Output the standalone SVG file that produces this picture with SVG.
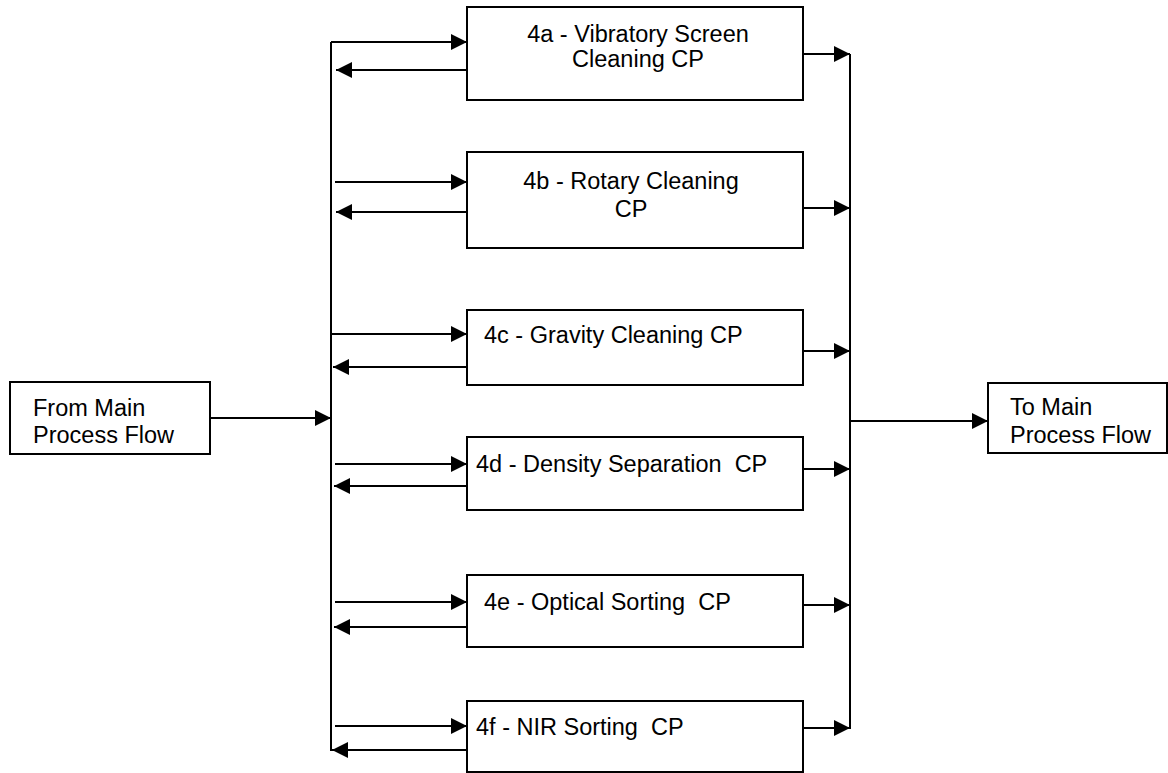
<svg xmlns="http://www.w3.org/2000/svg" width="1168" height="773" viewBox="0 0 1168 773">
<defs>
<marker id="ah" markerUnits="userSpaceOnUse" markerWidth="17" markerHeight="16" refX="16" refY="8" orient="auto">
<path d="M0,0 L16,8 L0,16 z" fill="#000"/>
</marker>
<style>
.box{fill:#fff;stroke:#000;stroke-width:2}
.t{font-family:"Liberation Sans",Arial,sans-serif;font-size:23.5px;fill:#000}
.c{text-anchor:middle}
.ln{stroke:#000;stroke-width:2;fill:none}
.ar{stroke:#000;stroke-width:2;fill:none;marker-end:url(#ah)}
</style>
</defs>
<rect width="1168" height="773" fill="#fff"/>
<g id="from">
<rect class="box" x="10" y="382" width="200" height="72"/>
<text class="t" x="33" y="416">From Main</text>
<text class="t" x="33" y="443">Process Flow</text>
</g>
<g id="to">
<rect class="box" x="988" y="383" width="179" height="70"/>
<text class="t" x="1010" y="415">To Main</text>
<text class="t" x="1010" y="443">Process Flow</text>
</g>
<g id="n4a">
<rect class="box" x="467" y="7" width="336" height="93"/>
<text class="t c" x="638" y="42">4a - Vibratory Screen</text>
<text class="t c" x="638" y="67">Cleaning CP</text>
</g>
<g id="n4b">
<rect class="box" x="467" y="152" width="336" height="96"/>
<text class="t c" x="631" y="189">4b - Rotary Cleaning</text>
<text class="t c" x="631" y="217">CP</text>
</g>
<g id="n4c">
<rect class="box" x="467" y="310" width="336" height="75"/>
<text class="t" x="484" y="343">4c - Gravity Cleaning CP</text>
</g>
<g id="n4d">
<rect class="box" x="467" y="437" width="336" height="73"/>
<text class="t" x="476" y="472" xml:space="preserve">4d - Density Separation  CP</text>
</g>
<g id="n4e">
<rect class="box" x="467" y="575" width="336" height="72"/>
<text class="t" x="484" y="610" xml:space="preserve">4e - Optical Sorting  CP</text>
</g>
<g id="n4f">
<rect class="box" x="467" y="701" width="336" height="71"/>
<text class="t" x="476" y="735" xml:space="preserve">4f - NIR Sorting  CP</text>
</g>
<g id="connectors">
<line class="ln" x1="331" y1="42" x2="331" y2="751"/>
<line class="ln" x1="850" y1="54" x2="850" y2="729"/>
<line class="ar" x1="210" y1="418" x2="331" y2="418"/>
<line class="ar" x1="850" y1="421" x2="988" y2="421"/>
<line class="ar" x1="331" y1="42" x2="467" y2="42"/>
<line class="ar" x1="335" y1="182" x2="467" y2="182"/>
<line class="ar" x1="331" y1="334" x2="467" y2="334"/>
<line class="ar" x1="335" y1="464" x2="467" y2="464"/>
<line class="ar" x1="335" y1="602" x2="467" y2="602"/>
<line class="ar" x1="335" y1="726" x2="467" y2="726"/>
<line class="ar" x1="466" y1="70" x2="336" y2="70"/>
<line class="ar" x1="466" y1="212" x2="336" y2="212"/>
<line class="ar" x1="466" y1="367" x2="333" y2="367"/>
<line class="ar" x1="466" y1="486" x2="334" y2="486"/>
<line class="ar" x1="466" y1="627" x2="334" y2="627"/>
<line class="ar" x1="466" y1="750" x2="332" y2="750"/>
<line class="ar" x1="803" y1="54" x2="850" y2="54"/>
<line class="ar" x1="803" y1="208" x2="850" y2="208"/>
<line class="ar" x1="803" y1="351" x2="850" y2="351"/>
<line class="ar" x1="803" y1="469" x2="850" y2="469"/>
<line class="ar" x1="803" y1="605" x2="850" y2="605"/>
<line class="ar" x1="803" y1="728" x2="850" y2="728"/>
</g>
</svg>
